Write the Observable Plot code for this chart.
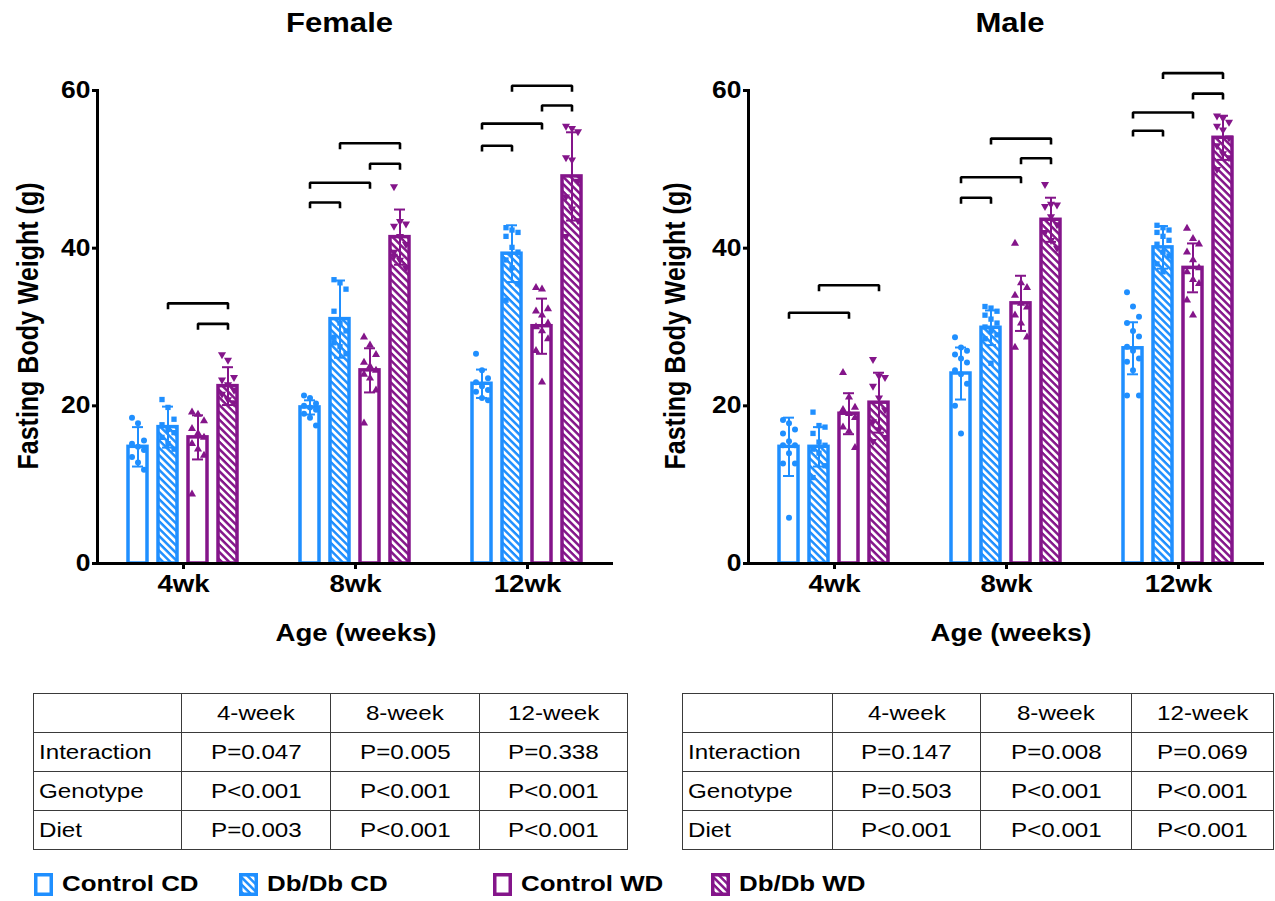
<!DOCTYPE html>
<html>
<head>
<meta charset="utf-8">
<script src="https://cdn.jsdelivr.net/npm/d3@7"></script>
<script src="https://cdn.jsdelivr.net/npm/@observablehq/plot@0.6"></script>
<style>
  html, body { margin: 0; padding: 0; background: #fff; }
  body { width: 1275px; height: 901px; position: relative; overflow: hidden; font-family: "Liberation Sans", Arial, sans-serif; color: #000; }
  .abs { position: absolute; }
  .title { font-weight: bold; font-size: 27px; line-height: 30px; text-align: center; width: 300px; }
  .xlab { font-weight: bold; font-size: 24px; line-height: 30px; text-align: center; width: 300px; }
  .ylab { font-weight: bold; font-size: 25px; line-height: 30px; text-align: center; width: 420px; transform: rotate(-90deg) scaleY(1.15); transform-origin: center; }
  .sx { display: inline-block; transform: scaleX(1.15); transform-origin: center; white-space: nowrap; }
  .sxl { display: inline-block; transform: scaleX(1.15); transform-origin: left center; white-space: nowrap; }
  table.pt { position: absolute; border-collapse: collapse; table-layout: fixed; font-size: 21px; }
  table.pt td { border: 1.5px solid #3a3a3a; height: 38px; padding: 0; text-align: center; }
  table.pt td:first-child { text-align: left; padding-left: 5px; }
  .leg { position: absolute; display: flex; align-items: center; font-weight: bold; font-size: 22.5px; height: 26px; }
  .leg svg { margin-right: 9px; }
</style>
</head>
<body>
<svg width="0" height="0" style="position:absolute">
  <defs>
    <pattern id="hatchBlue" patternUnits="userSpaceOnUse" width="5.2" height="5.2" patternTransform="rotate(45)">
      <rect width="5.2" height="5.2" fill="#ffffff"></rect>
      <rect width="5.2" height="2.5" fill="#1f8fff"></rect>
    </pattern>
    <pattern id="hatchPurple" patternUnits="userSpaceOnUse" width="5.2" height="5.2" patternTransform="rotate(45)">
      <rect width="5.2" height="5.2" fill="#ffffff"></rect>
      <rect width="5.2" height="2.5" fill="#84158a"></rect>
    </pattern>
  </defs>
</svg>

<div id="female" class="abs" style="left:0px;top:0px;width:640px;height:660px;"></div>
<div id="male" class="abs" style="left:640px;top:0px;width:634px;height:660px;"></div>

<div class="abs title" style="left:190px;top:8px;"><span class="sx">Female</span></div>
<div class="abs title" style="left:860px;top:8px;"><span class="sx">Male</span></div>

<div class="abs ylab" style="left:-182px;top:311px;">Fasting Body Weight (g)</div>
<div class="abs ylab" style="left:465px;top:311px;">Fasting Body Weight (g)</div>

<div class="abs xlab" style="left:206px;top:618px;"><span class="sx">Age (weeks)</span></div>
<div class="abs xlab" style="left:861px;top:618px;"><span class="sx">Age (weeks)</span></div>

<div id="tables"></div>
<div id="legend"></div>

<script>
// ---------- categories ----------
const weeks = ["4wk", "8wk", "12wk"];
const groups = ["Control CD", "Db/Db CD", "Control WD", "Db/Db WD"];
const yTicks = [0, 20, 40, 60];

// ---------- Female: means / SD per week (rows) and group (columns) ----------
const femaleMeans = [
  [14.8, 17.3, 16.0, 22.5],
  [19.8, 31.0, 24.5, 41.4],
  [22.8, 39.3, 30.1, 49.1]
];
const femaleSD = [
  [2.5, 2.6, 2.8, 2.4],
  [0.9, 4.9, 2.8, 3.5],
  [1.8, 3.6, 3.5, 5.6]
];
const femalePoints4wk = [
  [18.5, 17.8, 15.6, 15.2, 14.8, 14.4, 13.5, 12.8, 11.9],
  [20.8, 19.8, 18.3, 17.6, 17.0, 16.6, 16.0, 15.2, 14.5],
  [19.2, 18.9, 18.1, 17.1, 16.5, 16.0, 15.2, 14.5, 13.7, 8.8],
  [26.5, 25.8, 23.6, 23.3, 22.7, 22.0, 21.5, 20.8, 20.4]
];
const femalePoints8wk = [
  [21.3, 21.0, 20.3, 20.0, 19.8, 19.5, 19.0, 18.5, 17.5],
  [36.0, 35.6, 34.8, 32.0, 30.5, 29.5, 28.7, 27.5, 26.6, 28.0],
  [28.7, 27.7, 26.5, 25.5, 25.0, 24.5, 24.0, 23.5, 22.0, 17.8],
  [47.8, 43.4, 43.1, 42.8, 41.5, 40.5, 39.5, 38.5, 37.5, 39.0]
];
const femalePoints12wk = [
  [26.6, 24.5, 23.5, 23.0, 22.5, 22.0, 21.8, 21.0, 20.7],
  [42.6, 42.3, 42.0, 41.5, 40.1, 39.5, 38.5, 37.5, 35.5, 33.4],
  [35.0, 34.8, 32.3, 32.0, 31.5, 30.5, 30.0, 29.5, 28.5, 27.0, 23.0],
  [55.5, 55.2, 54.8, 51.5, 51.2, 48.5, 46.5, 45.0, 43.5, 41.5]
];
// significance brackets: [week, from group index, to group index, height]
const femaleBrackets = [
  ["4wk", 1, 3, 33.0], ["4wk", 2, 3, 30.4],
  ["8wk", 0, 1, 45.8], ["8wk", 0, 2, 48.3], ["8wk", 2, 3, 50.7], ["8wk", 1, 3, 53.3],
  ["12wk", 0, 1, 53.0], ["12wk", 0, 2, 55.8], ["12wk", 2, 3, 58.1], ["12wk", 1, 3, 60.6]
];

// ---------- Male ----------
const maleMeans = [
  [14.8, 14.8, 19.0, 20.4],
  [24.1, 29.9, 33.0, 43.6],
  [27.3, 40.1, 37.5, 54.0]
];
const maleSD = [
  [3.7, 2.5, 2.6, 3.8],
  [3.3, 2.2, 3.5, 2.8],
  [3.3, 2.7, 3.1, 2.8]
];
const malePoints4wk = [
  [18.2, 17.8, 17.0, 16.5, 15.5, 15.0, 15.0, 14.0, 12.7, 12.7, 5.8],
  [19.2, 17.5, 17.3, 16.5, 15.4, 15.0, 14.5, 14.0, 12.4, 10.9],
  [24.2, 21.1, 19.8, 19.5, 19.0, 18.5, 17.3, 16.8, 14.7],
  [25.9, 23.8, 23.6, 22.5, 21.0, 19.5, 18.0, 17.0, 16.0, 15.5]
];
const malePoints8wk = [
  [28.7, 27.4, 27.0, 26.5, 26.0, 25.5, 24.5, 24.0, 22.8, 20.0, 16.5],
  [32.6, 32.4, 32.0, 31.5, 31.0, 30.5, 30.0, 29.5, 29.0, 28.5, 25.4],
  [40.6, 35.6, 35.0, 34.0, 33.0, 32.5, 31.5, 30.5, 28.7, 27.4],
  [48.1, 45.6, 45.5, 45.3, 44.0, 43.0, 42.0, 41.0, 40.0]
];
const malePoints12wk = [
  [34.4, 32.6, 31.3, 30.5, 29.5, 28.8, 27.5, 27.0, 26.0, 25.6, 24.5, 21.3, 21.3],
  [42.9, 42.6, 42.3, 42.0, 41.5, 41.0, 40.5, 39.5, 39.0, 38.0, 37.0],
  [42.5, 41.2, 40.5, 39.5, 38.5, 37.5, 37.0, 36.0, 35.5, 33.4, 31.5],
  [56.8, 56.5, 56.0, 55.5, 55.0, 54.0, 53.0, 52.0, 51.5, 50.0]
];
const maleBrackets = [
  ["4wk", 0, 2, 31.8], ["4wk", 1, 3, 35.3],
  ["8wk", 0, 1, 46.4], ["8wk", 0, 2, 49.0], ["8wk", 2, 3, 51.4], ["8wk", 1, 3, 53.9],
  ["12wk", 0, 1, 54.9], ["12wk", 0, 2, 57.2], ["12wk", 2, 3, 59.6], ["12wk", 1, 3, 62.2]
];

// ---------- tables ----------
const tableHeader = ["", "4-week", "8-week", "12-week"];
const tableRows = ["Interaction", "Genotype", "Diet"];
const femaleP = [
  ["P=0.047", "P=0.005", "P=0.338"],
  ["P<0.001", "P<0.001", "P<0.001"],
  ["P=0.003", "P<0.001", "P<0.001"]
];
const maleP = [
  ["P=0.147", "P=0.008", "P=0.069"],
  ["P=0.503", "P<0.001", "P<0.001"],
  ["P<0.001", "P<0.001", "P<0.001"]
];

// ---------- styles ----------
const BLUE = "#1f8fff", PURPLE = "#84158a";
const groupColors = [BLUE, BLUE, PURPLE, PURPLE];
const groupFills = ["white", "url(#hatchBlue)", "white", "url(#hatchPurple)"];
const sqrt3 = Math.sqrt(3);
const triangleDown = {
  draw(ctx, size) {
    const y = -Math.sqrt(size / (sqrt3 * 3));
    ctx.moveTo(0, -y * 2);
    ctx.lineTo(-sqrt3 * y, y);
    ctx.lineTo(sqrt3 * y, y);
    ctx.closePath();
  }
};
const groupSymbols = ["circle", "square", "triangle", triangleDown];
const slotOffsets = [-6, 0, 6];
const bracketDrop = 0.75;

function buildPanel(means, sds, pointsByWeek, brackets, marginLeft, width) {
  const stats = [], pts = [], br = [];
  weeks.forEach((w, wi) => groups.forEach((g, gi) => {
    stats.push({week: w, group: g, gi, mean: means[wi][gi], sd: sds[wi][gi]});
    pointsByWeek[wi][gi].forEach((v, k) => pts.push({week: w, group: g, gi, value: v, slot: k % 3}));
  }));
  brackets.forEach(([w, a, b, y], id) => {
    br.push({id, week: w, group: groups[a], y: y - bracketDrop},
            {id, week: w, group: groups[a], y},
            {id, week: w, group: groups[b], y},
            {id, week: w, group: groups[b], y: y - bracketDrop});
  });
  const marks = [];
  groups.forEach((g, gi) => {
    const s = stats.filter(d => d.gi === gi);
    marks.push(Plot.barY(s, {fx: "week", x: "group", y: "mean", fill: groupFills[gi], stroke: groupColors[gi], strokeWidth: 3.5}));
  });
  groups.forEach((g, gi) => {
    const s = stats.filter(d => d.gi === gi);
    const c = groupColors[gi];
    marks.push(Plot.ruleX(s, {fx: "week", x: "group", y1: d => d.mean - d.sd, y2: d => d.mean + d.sd, stroke: c, strokeWidth: 2}));
    marks.push(Plot.tickY(s, {fx: "week", x: "group", y: d => d.mean + d.sd, stroke: c, strokeWidth: 2, insetLeft: 4, insetRight: 4}));
    marks.push(Plot.tickY(s, {fx: "week", x: "group", y: d => d.mean - d.sd, stroke: c, strokeWidth: 2, insetLeft: 4, insetRight: 4}));
    slotOffsets.forEach((dx, slot) => {
      marks.push(Plot.dot(pts.filter(d => d.gi === gi && d.slot === slot),
        {fx: "week", x: "group", y: "value", dx, r: 3, fill: c, symbol: groupSymbols[gi]}));
    });
  });
  marks.push(Plot.line(br, {fx: "week", x: "group", y: "y", z: "id", stroke: "black", strokeWidth: 2.6, strokeLinejoin: "miter", strokeLinecap: "butt"}));
  marks.push(Plot.ruleY([0], {stroke: "black", strokeWidth: 3}));
  marks.push(Plot.frame({anchor: "left", facetAnchor: "left", stroke: "black", strokeWidth: 3}));
  marks.push(Plot.axisY({ticks: yTicks, tickSize: 5, tickPadding: 2, fontSize: 23, fontWeight: "bold", color: "black", strokeWidth: 3, label: null}));
  marks.push(Plot.axisFx({anchor: "bottom", tickSize: 6, tickPadding: 5, fontSize: 24, fontWeight: "bold", color: "black", strokeWidth: 3, label: null}));
  return Plot.plot({
    width, height: 660,
    marginLeft, marginRight: width - marginLeft - 516, marginTop: 90, marginBottom: 97,
    style: {fontFamily: "'Liberation Sans', Arial, sans-serif", background: "none", overflow: "visible"},
    fx: {domain: weeks, paddingInner: 0, paddingOuter: 0, label: null},
    x: {domain: groups, paddingInner: 0.355, paddingOuter: 0.952, axis: null},
    y: {domain: [0, 60], axis: null},
    marks
  });
}

function stretchTexts(svg, k) {
  svg.querySelectorAll("text").forEach(t => {
    const tr = (t.getAttribute("transform") || "");
    if (tr.includes("rotate")) return;
    const L = t.getComputedTextLength();
    if (L > 0) {
      t.setAttribute("textLength", (L * k).toFixed(2));
      t.setAttribute("lengthAdjust", "spacingAndGlyphs");
    }
  });
}

const femaleSvg = buildPanel(femaleMeans, femaleSD, [femalePoints4wk, femalePoints8wk, femalePoints12wk], femaleBrackets, 97, 640);
document.getElementById("female").appendChild(femaleSvg);
const maleSvg = buildPanel(maleMeans, maleSD, [malePoints4wk, malePoints8wk, malePoints12wk], maleBrackets, 108, 634);
document.getElementById("male").appendChild(maleSvg);
stretchTexts(femaleSvg, 1.15);
stretchTexts(maleSvg, 1.15);

// ---------- tables ----------
function buildTable(values, left, top, colWidths) {
  const t = document.createElement("table");
  t.className = "pt";
  t.style.left = left + "px";
  t.style.top = top + "px";
  t.style.width = colWidths.reduce((a, b) => a + b, 0) + "px";
  const cg = document.createElement("colgroup");
  colWidths.forEach(w => { const c = document.createElement("col"); c.style.width = w + "px"; cg.appendChild(c); });
  t.appendChild(cg);
  const addRow = (cells) => {
    const tr = document.createElement("tr");
    cells.forEach((txt, i) => {
      const td = document.createElement("td");
      const sp = document.createElement("span");
      sp.className = i === 0 ? "sxl" : "sx";
      sp.textContent = txt;
      td.appendChild(sp);
      tr.appendChild(td);
    });
    t.appendChild(tr);
  };
  addRow(tableHeader);
  tableRows.forEach((r, i) => addRow([r, ...values[i]]));
  document.getElementById("tables").appendChild(t);
}
buildTable(femaleP, 33, 693, [148, 149, 149, 148]);
buildTable(maleP, 682, 693, [150, 148, 151, 142]);

// ---------- legend ----------
const legendX = [34, 239, 493, 711];
const leg = document.getElementById("legend");
groups.forEach((g, i) => {
  const d = document.createElement("div");
  d.className = "leg";
  d.style.left = legendX[i] + "px";
  d.style.top = "871px";
  d.innerHTML = `<svg width="19" height="23"><rect x="1.75" y="1.75" width="15.5" height="19.5" fill="${groupFills[i]}" stroke="${groupColors[i]}" stroke-width="3.5"></rect></svg><span class="sxl">${g}</span>`;
  leg.appendChild(d);
});
</script>
</body>
</html>
